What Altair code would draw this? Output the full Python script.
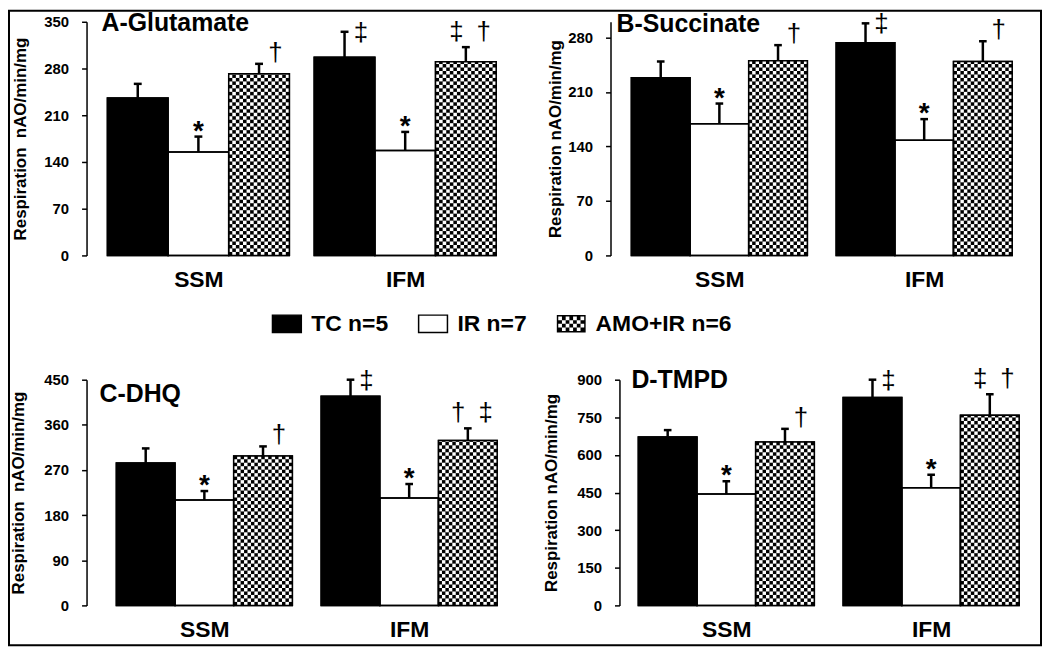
import altair as alt
import pandas as pd

FONT = "Liberation Sans"

TREATMENTS = ["TC n=5", "IR n=7", "AMO+IR n=6"]
GROUPS = ["SSM", "IFM"]
PANEL_TITLES = ["A-Glutamate", "B-Succinate", "C-DHQ", "D-TMPD"]
Y_TITLES = ["Respiration\u00a0 nAO/min/mg", "Respiration nAO/min/mg",
            "Respiration\u00a0 nAO/min/mg", "Respiration nAO/min/mg"]

A_TICKS = [0, 70, 140, 210, 280, 350]
B_TICKS = [0, 70, 140, 210, 280]
C_TICKS = [0, 90, 180, 270, 360, 450]
D_TICKS = [0, 150, 300, 450, 600, 750, 900]

# order: SSM TC, SSM IR, SSM AMO+IR, IFM TC, IFM IR, IFM AMO+IR
A_MEAN = [236, 155, 272, 297, 157, 290]
A_SEM = [21, 23, 15, 38, 28, 22]
A_SIG = ["", "*", "†", "‡", "*", "‡\u2002†"]

B_MEAN = [228, 169, 250, 273, 148, 249]
B_SEM = [21, 26, 20, 25, 27, 26]
B_SIG = ["", "*", "†", "‡", "*", "†"]

C_MEAN = [284, 210, 298, 417, 214, 329]
C_SEM = [29, 18, 19, 33, 28, 24]
C_SIG = ["", "*", "†", "‡", "*", "†\u2002‡"]

D_MEAN = [672, 444, 652, 829, 469, 758]
D_SEM = [27, 51, 52, 71, 52, 84]
D_SIG = ["", "*", "†", "‡", "*", "‡\u2002†"]

CELL_PX = 3.5
NCOL = 17

RECT_PATH = "M-1,-0.6H1V0.6H-1Z"


def checker_path():
    parts = [RECT_PATH]
    cols, rows = 7, 4
    x0, y0, w, h = -0.9, -0.5, 1.8 / cols, 1.0 / rows
    for r in range(rows):
        for c in range(cols):
            if (r + c) % 2 == 0:
                x = x0 + c * w
                y = y0 + r * h
                parts.append(f"M{x:.3f},{y:.3f}V{y + h:.3f}H{x + w:.3f}V{y:.3f}Z")
    return "".join(parts)


CHECKER_PATH = checker_path()

FILL_SCALE = alt.Scale(domain=TREATMENTS, range=["black", "white", "black"])
SHAPE_SCALE = alt.Scale(domain=TREATMENTS, range=[RECT_PATH, RECT_PATH, CHECKER_PATH])
STROKE_SCALE = alt.Scale(domain=TREATMENTS, range=["black", "black", "transparent"])

LEG = alt.Legend(
    title=None, orient="none", legendX=186, legendY=288,
    direction="horizontal", labelFont=FONT, labelFontSize=23,
    labelFontWeight="bold", labelColor="black", symbolSize=841,
    symbolStrokeWidth=1.5, labelOffset=9, columnPadding=27, padding=0,
)


def panel(idx, means, sems, sigs, ticks, ymax, width, height, lead, bar, gap,
          axis_offset, tdx, tdy, title_pad, extras=False):
    n = len(means)
    df = pd.DataFrame({
        "group": [GROUPS[i // 3] for i in range(n)],
        "gi": [i // 3 for i in range(n)],
        "treatment": [TREATMENTS[i % 3] for i in range(n)],
        "ti": [i % 3 for i in range(n)],
        "mean": means,
        "sem": sems,
        "sig": sigs,
    })
    step = 3 + gap / bar
    upp = ymax / height
    cell = CELL_PX * upp
    xs = alt.Scale(domain=[-lead / bar, (width - lead) / bar], nice=False, zero=False)
    ys = alt.Scale(domain=[0, ymax], nice=False, zero=True)

    xaxis = alt.Axis(
        values=[1.5, step + 1.5],
        labelExpr=f"datum.value < {step} ? '{GROUPS[0]}' : '{GROUPS[1]}'",
        domain=False, ticks=False, grid=False, title=None,
        labelFont=FONT, labelFontSize=23, labelFontWeight="bold",
        labelColor="black", labelPadding=13,
    )
    yaxis = alt.Axis(
        values=ticks, grid=False, title=Y_TITLES[idx], offset=axis_offset,
        domainColor="black", domainWidth=1.5, tickColor="black", tickWidth=1.5,
        tickSize=5, labelFont=FONT, labelFontSize=15, labelFontWeight="bold",
        labelColor="black", labelPadding=13, titleFont=FONT, titleFontSize=17,
        titleFontWeight="bold", titleColor="black", titlePadding=title_pad,
    )

    def X(f):
        return alt.X(f, scale=xs, axis=xaxis)

    def Y(f):
        return alt.Y(f, scale=ys, axis=yaxis)

    base = alt.Chart(df).transform_calculate(
        x0=f"datum.gi * {step} + datum.ti",
        x1=f"datum.gi * {step} + datum.ti + 1",
        xc=f"datum.gi * {step} + datum.ti + 0.5",
        top="datum.mean + datum.sem",
    )

    bars = base.mark_rect(stroke="black", strokeWidth=1.5).encode(
        x=X("x0:Q"), x2="x1:Q", y=Y("mean:Q"), y2=alt.datum(0),
        fill=alt.Fill("treatment:N", scale=FILL_SCALE, legend=LEG),
    )

    checker = base.transform_filter(
        "datum.ti == 2"
    ).transform_calculate(
        rows=f"sequence(0, ceil(datum.mean / {cell}))"
    ).transform_flatten(["rows"], as_=["row"]).transform_calculate(
        cols=f"sequence(0, {NCOL})"
    ).transform_flatten(["cols"], as_=["col"]).transform_filter(
        "(datum.row + datum.col) % 2 == 1"
    ).transform_calculate(
        cx0=f"datum.x0 + datum.col / {NCOL}",
        cx1=f"datum.x0 + (datum.col + 1) / {NCOL}",
        cy0=f"datum.row * {cell}",
        cy1=f"min(datum.mean, (datum.row + 1) * {cell})",
    ).mark_rect(fill="white").encode(
        x=X("cx0:Q"), x2="cx1:Q", y=Y("cy0:Q"), y2="cy1:Q",
    )

    outline = base.mark_rect(fillOpacity=0, stroke="black", strokeWidth=1.5).encode(
        x=X("x0:Q"), x2="x1:Q", y=Y("mean:Q"), y2=alt.datum(0),
    )

    err = base.mark_rule(color="black", strokeWidth=2.5).encode(
        x=X("xc:Q"), y=Y("mean:Q"), y2="top:Q",
    )
    cap = base.transform_calculate(
        cl="datum.xc - 0.065", cr="datum.xc + 0.065"
    ).mark_rule(color="black", strokeWidth=2.5).encode(
        x=X("cl:Q"), x2="cr:Q", y=Y("top:Q"),
    )

    stars = base.transform_filter("datum.sig == '*'").transform_calculate(
        ty=f"datum.top - 3 * {upp}"
    ).mark_text(font=FONT, fontSize=28, fontWeight="bold", color="black",
                baseline="alphabetic", align="center").encode(
        x=X("xc:Q"), y=Y("ty:Q"), text="sig:N",
    )
    daggers = base.transform_filter(
        "datum.sig != '' && datum.sig != '*'"
    ).transform_calculate(
        tx="length(datum.sig) > 1 ? datum.xc + 0.07 : datum.xc + 0.27",
        ty=(f"length(datum.sig) > 1 ? datum.top + 7 * {upp} : "
            f"(datum.ti == 0 ? datum.top - 9 * {upp} : datum.top + 3 * {upp})"),
    ).mark_text(font=FONT, fontSize=26, color="black",
                baseline="alphabetic", align="center").encode(
        x=X("tx:Q"), y=Y("ty:Q"), text="sig:N",
    )

    ttl = alt.Chart(alt.Data(values=[{"t": PANEL_TITLES[idx]}])).mark_text(
        align="left", baseline="middle", font=FONT, fontSize=25,
        fontWeight="bold", color="black"
    ).encode(x=alt.value(tdx), y=alt.value(tdy), text="t:N")

    layers = [bars, checker, outline, err, cap, stars, daggers, ttl]

    if extras:
        legend_layer = base.transform_filter("false").mark_point(
            filled=True, opacity=1
        ).encode(
            x=X("xc:Q"), y=Y("mean:Q"),
            fill=alt.Fill("treatment:N", scale=FILL_SCALE, legend=LEG),
            shape=alt.Shape("treatment:N", scale=SHAPE_SCALE, legend=LEG),
            stroke=alt.Stroke("treatment:N", scale=STROKE_SCALE, legend=LEG),
        )
        frame = alt.Chart(alt.Data(values=[{"k": 0}])).mark_rect(
            fillOpacity=0, stroke="black", strokeWidth=2
        ).encode(x=alt.value(-78), x2=alt.value(960), y=alt.value(-11), y2=alt.value(627))
        layers += [legend_layer, frame]

    return alt.layer(*layers).properties(width=width, height=height)


pA = panel(0, A_MEAN, A_SEM, A_SIG, A_TICKS, 350, 433, 235, 21, 61, 25, 0, 15, 1, 14, extras=True)
pB = panel(1, B_MEAN, B_SEM, B_SIG, B_TICKS, 300, 426, 235, 21, 59, 29, 0, 6, 2, 3)
pC = panel(2, C_MEAN, C_SEM, C_SIG, C_TICKS, 450, 433, 227, 30, 59, 29, 0, 13, 14, 16)
pD = panel(3, D_MEAN, D_SEM, D_SIG, D_TICKS, 900, 426, 227, 28, 59, 29, -9, 21, 0, 16)

chart = alt.concat(
    pA, pB, pC, pD, columns=2, spacing={"row": 125, "column": 94}, bounds="flush"
).properties(padding=0, background="white").configure_view(stroke=None)

chart.save("out.html", embed_options={"renderer": "svg", "actions": False})
